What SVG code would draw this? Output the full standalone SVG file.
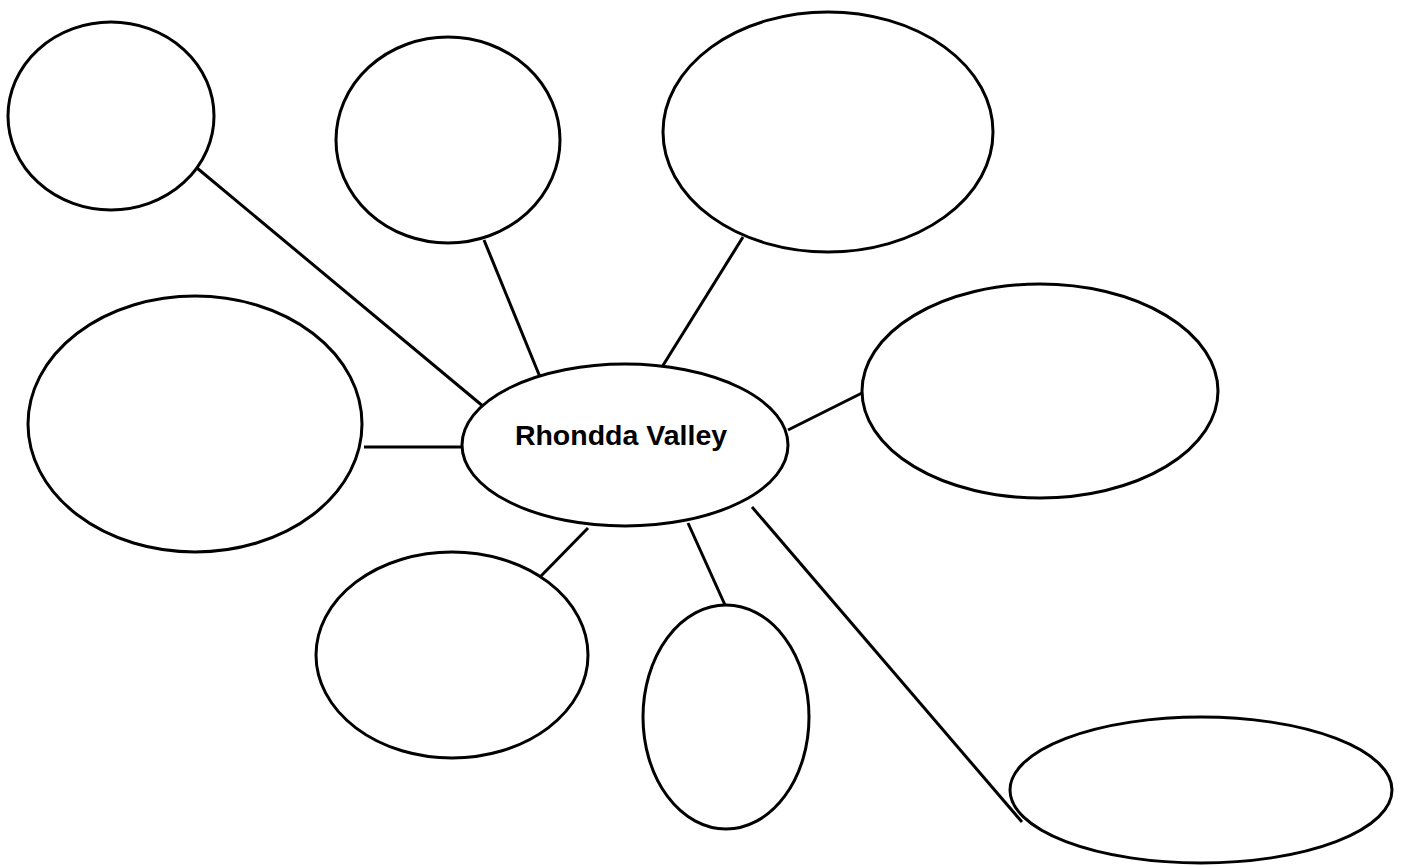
<svg xmlns="http://www.w3.org/2000/svg" width="1401" height="866" viewBox="0 0 1401 866">
<style>
.n{fill:#fff;stroke:#000;stroke-width:3}
.c line{stroke:#000;stroke-width:3}
.t{font-family:"Liberation Sans",Arial,sans-serif;font-weight:bold;font-size:28.5px;fill:#000}
</style>
<rect width="1401" height="866" fill="#fff"/>
<g class="c" id="connectors">
<line x1="197" y1="168" x2="484" y2="407"/>
<line x1="484" y1="240" x2="540" y2="377"/>
<line x1="743" y1="237" x2="662" y2="367"/>
<line x1="862" y1="393" x2="788" y2="430"/>
<line x1="364" y1="447" x2="462" y2="447"/>
<line x1="588" y1="528" x2="540" y2="577"/>
<line x1="688" y1="523" x2="725" y2="605"/>
<line x1="752" y1="507" x2="1022" y2="822"/>
</g>
<g id="center"><ellipse class="n" cx="625" cy="445" rx="163" ry="81"/><text class="t" x="621" y="445" text-anchor="middle">Rhondda Valley</text></g>
<g id="n1"><ellipse class="n" cx="111" cy="116" rx="103" ry="94"/></g>
<g id="n2"><ellipse class="n" cx="448" cy="140" rx="112" ry="103"/></g>
<g id="n3"><ellipse class="n" cx="828" cy="132" rx="165" ry="120"/></g>
<g id="n4"><ellipse class="n" cx="1040" cy="391" rx="178" ry="107"/></g>
<g id="n5"><ellipse class="n" cx="195" cy="424" rx="167" ry="128"/></g>
<g id="n6"><ellipse class="n" cx="452" cy="655" rx="136" ry="103"/></g>
<g id="n7"><ellipse class="n" cx="726" cy="717" rx="83" ry="112"/></g>
<g id="n8"><ellipse class="n" cx="1201" cy="790" rx="191" ry="73"/></g>
</svg>
